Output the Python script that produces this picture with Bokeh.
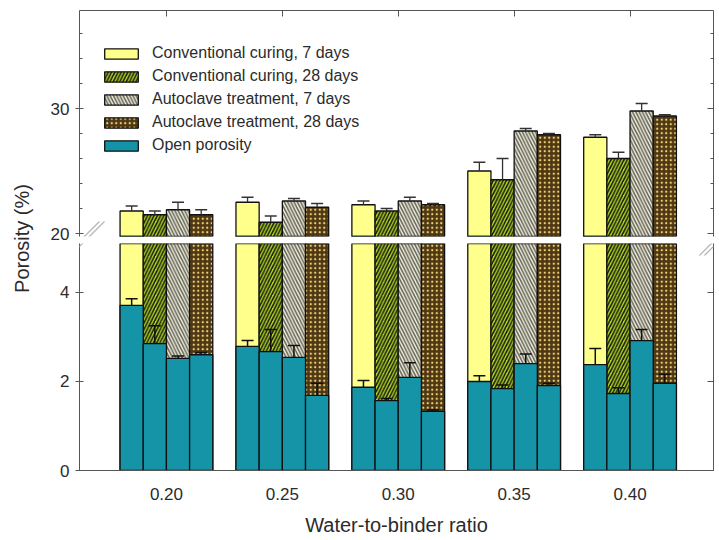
import math
from bokeh.plotting import figure
from bokeh.layouts import column, row
from bokeh.models import (Range1d, FixedTicker, LinearAxis, Whisker, TeeHead,
                          ColumnDataSource, Legend, LegendItem, Label, PolyAnnotation,
                          NumeralTickFormatter)
from bokeh.transform import dodge
from bokeh.embed import file_html
from bokeh.resources import INLINE

# ---------------- data ----------------
ratios = [0.20, 0.25, 0.30, 0.35, 0.40]
ratio_labels = ["0.20", "0.25", "0.30", "0.35", "0.40"]

series_names = ["Conventional curing, 7 days", "Conventional curing, 28 days",
                "Autoclave treatment, 7 days", "Autoclave treatment, 28 days"]
open_name = "Open porosity"

total_cc7 = [21.8, 22.5, 22.3, 25.0, 27.7]
total_cc7_err = [0.4, 0.4, 0.3, 0.7, 0.2]
total_cc28 = [21.5, 20.9, 21.8, 24.3, 26.0]
total_cc28_err = [0.3, 0.5, 0.2, 1.7, 0.5]
total_ac7 = [21.9, 22.6, 22.6, 28.2, 29.8]
total_ac7_err = [0.6, 0.2, 0.3, 0.2, 0.6]
total_ac28 = [21.5, 22.1, 22.3, 27.9, 29.4]
total_ac28_err = [0.4, 0.3, 0.1, 0.1, 0.1]

open_cc7 = [3.71, 2.79, 1.87, 2.00, 2.38]
open_cc7_err = [0.15, 0.13, 0.15, 0.13, 0.36]
open_cc28 = [2.85, 2.67, 1.57, 1.84, 1.73]
open_cc28_err = [0.40, 0.50, 0.05, 0.08, 0.13]
open_ac7 = [2.52, 2.54, 2.09, 2.40, 2.92]
open_ac7_err = [0.05, 0.27, 0.33, 0.22, 0.25]
open_ac28 = [2.60, 1.69, 1.33, 1.91, 1.96]
open_ac28_err = [0.05, 0.27, 0.03, 0.05, 0.20]

upper_ticks = [20, 30]
upper_minor_ticks = [22, 24, 26, 28, 32, 34, 36, 38]
lower_ticks = [0, 2, 4]

totals = [total_cc7, total_cc28, total_ac7, total_ac28]
totals_err = [total_cc7_err, total_cc28_err, total_ac7_err, total_ac28_err]
opens = [open_cc7, open_cc28, open_ac7, open_ac28]
opens_err = [open_cc7_err, open_cc28_err, open_ac7_err, open_ac28_err]

# ---------------- styles ----------------
FONT = "Liberation Sans"
TXT = "#2b2b2b"
AX = "#555555"
offsets = [-0.015, -0.005, 0.005, 0.015]
BAR_W = 0.01
styles = [
    dict(fill_color="#FFFF8C"),
    dict(fill_color="#B4DC18", hatch_pattern="right_diagonal_line",
         hatch_color="#1a1a1a", hatch_scale=6.5, hatch_weight=1.6),
    dict(fill_color="#F6F3E0", hatch_pattern="left_diagonal_line",
         hatch_color="#66665a", hatch_scale=6.5, hatch_weight=1.6),
    dict(fill_color="#4E3814", hatch_pattern="dot",
         hatch_color="#F3D377", hatch_scale=4.5, hatch_weight=5),
]
TEAL = "#1594A8"
BAR_LINE = dict(line_color="#111111", line_width=1.3)

xr = Range1d(0.1625, 0.436)
W = 678

def style_axis(ax):
    ax.axis_line_color = AX
    ax.major_tick_line_color = AX
    ax.minor_tick_line_color = AX
    ax.major_label_text_font = FONT
    ax.major_label_text_color = TXT
    ax.axis_label_text_font = FONT
    ax.axis_label_text_color = TXT
    ax.axis_label_text_font_style = "normal"

def hide_labels(ax, ticks):
    ax.major_label_overrides = {t: "" for t in ticks}
    ax.major_label_standoff = 0
    ax.major_tick_out = 0
    ax.minor_tick_out = 0

# ---------------- upper panel ----------------
top = figure(width=W, height=243, x_range=xr, y_range=Range1d(19.76, 37.84),
             output_backend="svg", toolbar_location=None, x_axis_location="above",
             min_border_top=10, min_border_bottom=7, min_border_left=41,
             min_border_right=3, outline_line_color=None)
top.grid.visible = False

legend_items = []
for i in range(4):
    vals = totals[i]
    errs = totals_err[i]
    src = ColumnDataSource(dict(x=ratios, v=vals, up=[a + b for a, b in zip(vals, errs)]))
    r = top.vbar(x=dodge("x", offsets[i], range=xr), top="v", bottom=0, width=BAR_W,
                 source=src, **styles[i], **BAR_LINE)
    top.add_layout(Whisker(source=src, base=dodge("x", offsets[i], range=xr),
                           lower="v", upper="up", dimension="height",
                           lower_head=None, level="overlay",
                           upper_head=TeeHead(size=12, line_color="#333333", line_width=1.3),
                           line_color="#333333", line_width=1.3))
    legend_items.append(LegendItem(label=series_names[i], renderers=[r]))

# legend proxy for open porosity (lies below the upper range)
src_o = ColumnDataSource(dict(x=ratios, v=opens[0]))
r_open_proxy = top.vbar(x=dodge("x", offsets[0], range=xr), top="v", bottom=0,
                        width=BAR_W, source=src_o, fill_color=TEAL, **BAR_LINE)
legend_items.append(LegendItem(label=open_name, renderers=[r_open_proxy]))

leg = Legend(items=legend_items, location=(21, 82), padding=0, margin=0,
             glyph_width=42, glyph_height=13, label_height=18, spacing=5,
             label_standoff=10, label_text_font=FONT, label_text_font_size="16px",
             label_text_color=TXT, border_line_alpha=0, background_fill_alpha=0)
top.add_layout(leg)

top.xaxis.ticker = FixedTicker(ticks=ratios)
hide_labels(top.xaxis[0], ratios)
top.xaxis.major_tick_in = 6
top.xaxis.minor_tick_line_color = None
style_axis(top.xaxis[0])

style_axis(top.yaxis[0])
top.yaxis.ticker = FixedTicker(ticks=upper_ticks, minor_ticks=upper_minor_ticks)
top.yaxis.major_tick_out = 4
top.yaxis.major_tick_in = 4
top.yaxis.minor_tick_in = 3
top.yaxis.minor_tick_out = 0
top.yaxis.major_label_standoff = 6
top.yaxis.major_label_text_font_size = "17px"

rax_t = LinearAxis(ticker=FixedTicker(ticks=upper_ticks, minor_ticks=upper_minor_ticks))
style_axis(rax_t)
hide_labels(rax_t, upper_ticks)
rax_t.major_tick_in = 6
rax_t.minor_tick_in = 3
top.add_layout(rax_t, "right")

# ---------------- lower panel ----------------
low = figure(width=W, height=296, x_range=xr, y_range=Range1d(0, 5.1),
             output_backend="svg", toolbar_location=None,
             min_border_top=0, min_border_bottom=69, min_border_left=41,
             min_border_right=3, outline_line_color=None)
low.grid.visible = False

for i in range(4):
    src = ColumnDataSource(dict(x=ratios, v=totals[i]))
    low.vbar(x=dodge("x", offsets[i], range=xr), top="v", bottom=0, width=BAR_W,
             source=src, **styles[i], **BAR_LINE)
for i in range(4):
    vals = opens[i]
    errs = opens_err[i]
    src = ColumnDataSource(dict(x=ratios, v=vals, up=[a + b for a, b in zip(vals, errs)]))
    low.vbar(x=dodge("x", offsets[i], range=xr), top="v", bottom=0, width=BAR_W,
             source=src, fill_color=TEAL, **BAR_LINE)
    low.add_layout(Whisker(source=src, base=dodge("x", offsets[i], range=xr),
                           lower="v", upper="up", dimension="height",
                           lower_head=None, level="overlay",
                           upper_head=TeeHead(size=12, line_color="#111111", line_width=1.5),
                           line_color="#111111", line_width=1.5))

low.xaxis.ticker = FixedTicker(ticks=ratios)
low.xaxis.formatter = NumeralTickFormatter(format="0.00")
low.xaxis.major_label_overrides = {r: s for r, s in zip(ratios, ratio_labels)}
low.xaxis.major_tick_in = 0
low.xaxis.major_tick_out = 0
low.xaxis.minor_tick_line_color = None
low.xaxis.major_label_standoff = 17
low.xaxis.major_label_text_font_size = "17px"
low.xaxis.axis_label = "Water-to-binder ratio"
low.xaxis.axis_label_text_font_size = "20px"
low.xaxis.axis_label_standoff = 11
style_axis(low.xaxis[0])

style_axis(low.yaxis[0])
low.yaxis.ticker = FixedTicker(ticks=lower_ticks)
low.yaxis.major_tick_out = 4
low.yaxis.major_tick_in = 4
low.yaxis.major_label_standoff = 6
low.yaxis.major_label_text_font_size = "17px"

rax_l = LinearAxis(ticker=FixedTicker(ticks=lower_ticks))
style_axis(rax_l)
hide_labels(rax_l, lower_ticks)
rax_l.major_tick_in = 6
low.add_layout(rax_l, "right")

# break marks ("//") across the gap: thin parallelograms in frame-relative screen units
BRK = dict(fill_color="#b4b4b4", fill_alpha=1.0, line_color=None,
           xs_units="screen", ys_units="screen", level="overlay")
def slash(fig, x0, y0):
    xs = [x0, x0 + 34, x0 + 35.8, x0 + 1.8]
    ys = [y0, y0 + 34, y0 + 34, y0]
    fig.add_layout(PolyAnnotation(xs=xs, ys=ys, **BRK))
for dx in (0, 5):
    for fx in (0, 634):
        slash(top, fx - 15 + dx, -19)
        slash(low, fx - 15 + dx, 215)

# ---------------- y-axis title panel ----------------
lab = figure(width=38, height=539, x_axis_type=None, y_axis_type=None,
             output_backend="svg", toolbar_location=None, min_border=0,
             outline_line_color=None)
lab.grid.visible = False
lab.add_layout(Label(x=21, y=301, x_units="screen", y_units="screen",
                     text="Porosity (%)", angle=math.pi / 2, text_align="center",
                     text_baseline="middle", text_font=FONT, text_font_size="20px",
                     text_color=TXT))

layout = row(lab, column(top, low))
open("out.html", "w").write(file_html(layout, INLINE))
